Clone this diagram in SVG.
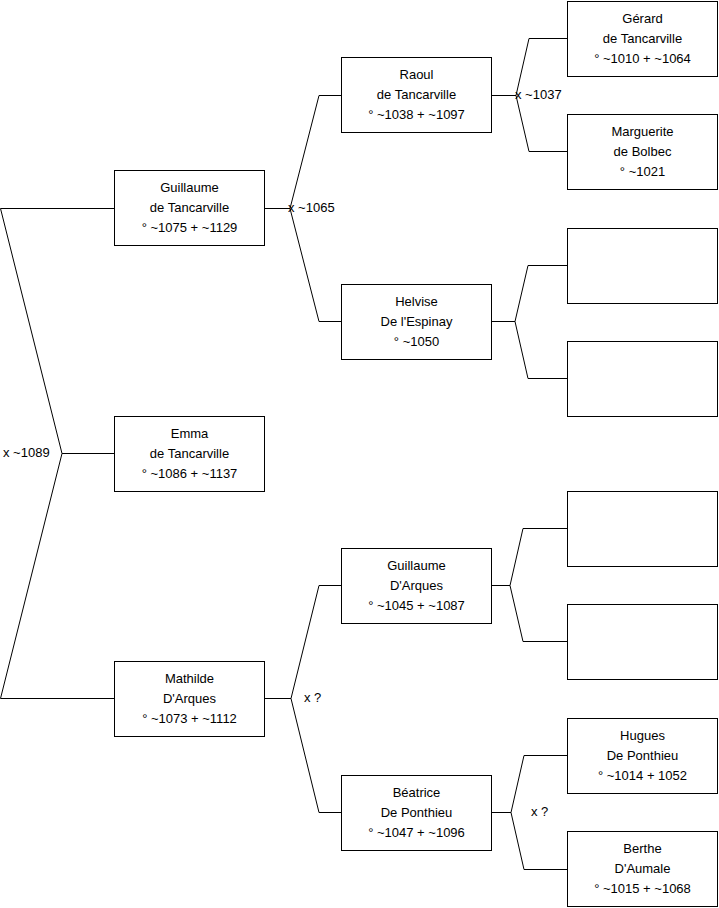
<svg xmlns="http://www.w3.org/2000/svg" width="719" height="908" viewBox="0 0 719 908">
<style>
.box{fill:#fff;stroke:#000;stroke-width:1}
.c{fill:none;stroke:#000;stroke-width:1}
text{font-family:"Liberation Sans",Arial,sans-serif;font-size:13px;fill:#000}
.n text{text-anchor:middle}
</style>
<rect width="719" height="908" fill="#fff"/>
<g id="connectors">
<path class="c" d="M114,208.5H0.5L62,453.5L0.5,698.5H114M62,453.5H114"/>
<path class="c" d="M265,208.5H290L319,95.5H341M290,208.5L319,321.5H341"/>
<path class="c" d="M492,95.5H516L529,38.5H567M516,95.5L529,151.5H567"/>
<path class="c" d="M492,321.5H515L528,265.5H567M515,321.5L528,378.5H567"/>
<path class="c" d="M265,698.5H291L319,585.5H341M291,698.5L319,812.5H341"/>
<path class="c" d="M492,585.5H510L523,528.5H567M510,585.5L523,641.5H567"/>
<path class="c" d="M492,812.5H511L524,755.5H567M511,812.5L524,869.5H567"/>
<text x="3" y="457">x ~1089</text>
<text x="288" y="212">x ~1065</text>
<text x="515" y="99">x ~1037</text>
<text x="304" y="702">x ?</text>
<text x="531" y="816">x ?</text>
</g>
<g id="guillaume-tancarville" class="n"><rect class="box" x="114.5" y="170.5" width="150" height="75"/><text x="189.5" y="192">Guillaume</text><text x="189.5" y="212">de Tancarville</text><text x="189.5" y="232">° ~1075 + ~1129</text></g>
<g id="emma" class="n"><rect class="box" x="114.5" y="416.5" width="150" height="75"/><text x="189.5" y="438">Emma</text><text x="189.5" y="458">de Tancarville</text><text x="189.5" y="478">° ~1086 + ~1137</text></g>
<g id="mathilde" class="n"><rect class="box" x="114.5" y="661.5" width="150" height="75"/><text x="189.5" y="683">Mathilde</text><text x="189.5" y="703">D'Arques</text><text x="189.5" y="723">° ~1073 + ~1112</text></g>
<g id="raoul" class="n"><rect class="box" x="341.5" y="57.5" width="150" height="75"/><text x="416.5" y="79">Raoul</text><text x="416.5" y="99">de Tancarville</text><text x="416.5" y="119">° ~1038 + ~1097</text></g>
<g id="helvise" class="n"><rect class="box" x="341.5" y="284.5" width="150" height="75"/><text x="416.5" y="306">Helvise</text><text x="416.5" y="326">De l'Espinay</text><text x="416.5" y="346">° ~1050</text></g>
<g id="guillaume-arques" class="n"><rect class="box" x="341.5" y="548.5" width="150" height="75"/><text x="416.5" y="570">Guillaume</text><text x="416.5" y="590">D'Arques</text><text x="416.5" y="610">° ~1045 + ~1087</text></g>
<g id="beatrice" class="n"><rect class="box" x="341.5" y="775.5" width="150" height="75"/><text x="416.5" y="797">Béatrice</text><text x="416.5" y="817">De Ponthieu</text><text x="416.5" y="837">° ~1047 + ~1096</text></g>
<g id="gerard" class="n"><rect class="box" x="567.5" y="1.5" width="150" height="75"/><text x="642.5" y="23">Gérard</text><text x="642.5" y="43">de Tancarville</text><text x="642.5" y="63">° ~1010 + ~1064</text></g>
<g id="marguerite" class="n"><rect class="box" x="567.5" y="114.5" width="150" height="75"/><text x="642.5" y="136">Marguerite</text><text x="642.5" y="156">de Bolbec</text><text x="642.5" y="176">° ~1021</text></g>
<g id="empty1" class="n"><rect class="box" x="567.5" y="228.5" width="150" height="75"/></g>
<g id="empty2" class="n"><rect class="box" x="567.5" y="341.5" width="150" height="75"/></g>
<g id="empty3" class="n"><rect class="box" x="567.5" y="491.5" width="150" height="75"/></g>
<g id="empty4" class="n"><rect class="box" x="567.5" y="604.5" width="150" height="75"/></g>
<g id="hugues" class="n"><rect class="box" x="567.5" y="718.5" width="150" height="75"/><text x="642.5" y="740">Hugues</text><text x="642.5" y="760">De Ponthieu</text><text x="642.5" y="780">° ~1014 + 1052</text></g>
<g id="berthe" class="n"><rect class="box" x="567.5" y="831.5" width="150" height="75"/><text x="642.5" y="853">Berthe</text><text x="642.5" y="873">D'Aumale</text><text x="642.5" y="893">° ~1015 + ~1068</text></g>
</svg>
